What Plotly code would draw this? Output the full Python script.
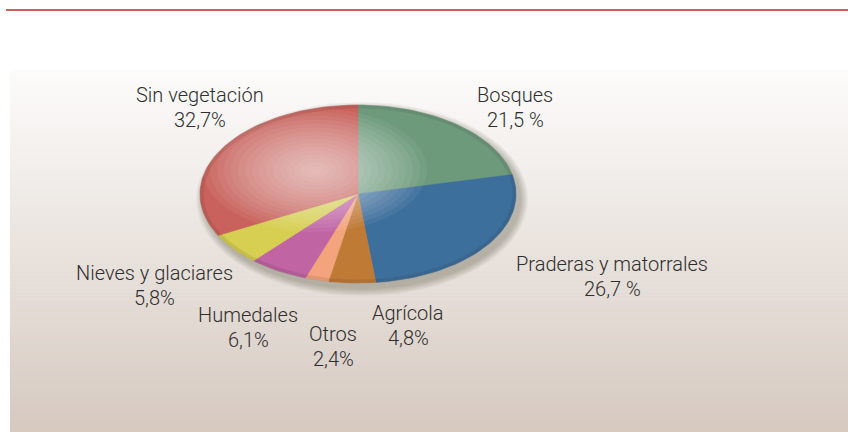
import numpy as np
import plotly.graph_objects as go

# ---- data ----
categories = ["Bosques", "Praderas y matorrales", "Agrícola", "Otros",
              "Humedales", "Nieves y glaciares", "Sin vegetación"]
values = [21.5, 26.7, 4.8, 2.4, 6.1, 5.8, 32.7]
pct_labels = ["21,5 %", "26,7 %", "4,8%", "2,4%", "6,1%", "5,8%", "32,7%"]
colors = ["#6e9a7c", "#3d6f9c", "#bf7a36", "#f4a47c", "#c064a4", "#d6cf52", "#c9625c"]

# label anchor positions (pixels, centre of first line)
label_pos = [(515, 95), (612, 264), (408, 313), (333, 334),
             (248, 315), (154, 273), (200, 95)]

W, H = 848, 432
cx, cy, rx, ry = 358, 194, 158, 89

fig = go.Figure()

def hexrgb(h):
    h = h.lstrip("#")
    return tuple(int(h[i:i + 2], 16) for i in (0, 2, 4))

shapes = []
# background gradient panel
top_c = np.array(hexrgb("#fdfcfb"))
bot_c = np.array(hexrgb("#d6cac1"))
y0p, y1p = 70, 432
nb = 90
for i in range(nb):
    t = i / (nb - 1)
    c = (top_c * (1 - t) + bot_c * t).astype(int)
    ya = y0p + (y1p - y0p) * i / nb
    yb = y0p + (y1p - y0p) * (i + 1) / nb + 0.6
    shapes.append(dict(type="rect", xref="x", yref="y", x0=10, x1=W, y0=ya, y1=yb,
                       fillcolor=f"rgb({c[0]},{c[1]},{c[2]})", line=dict(width=0),
                       layer="below"))
# top red rule
shapes.append(dict(type="line", xref="x", yref="y", x0=6, x1=W, y0=10, y1=10,
                   line=dict(color="#c4645c", width=2.2)))

# soft shadow beneath pie
for k in range(8):
    g = 8 - k
    shapes.append(dict(type="circle", xref="x", yref="y",
                       x0=cx - rx - g + 4, x1=cx + rx + g + 4,
                       y0=cy - ry - g + 5, y1=cy + ry + g + 5,
                       fillcolor="rgba(80,60,50,0.045)", line=dict(width=0),
                       layer="below"))

# pie slices as filled polygons computed from values
total = sum(values)
start = 0.0
for name, v, col in zip(categories, values, colors):
    a0 = start / total * 2 * np.pi
    a1 = (start + v) / total * 2 * np.pi
    n = max(4, int(200 * v / total))
    th = np.linspace(a0, a1, n)
    xs = np.concatenate([[cx], cx + rx * np.sin(th), [cx]])
    ys = np.concatenate([[cy], cy - ry * np.cos(th), [cy]])
    fig.add_trace(go.Scatter(x=xs, y=ys, fill="toself", fillcolor=col, mode="lines",
                             line=dict(color=col, width=0.5), hoverinfo="skip",
                             showlegend=False, name=name))
    start += v

# 3D highlight (white glow) and rim darkening
hx, hy = 315, 170
for k in range(16):
    f = 1 - k / 16
    shapes.append(dict(type="circle", xref="x", yref="y",
                       x0=hx - 112 * f, x1=hx + 112 * f,
                       y0=hy - 62 * f, y1=hy + 62 * f,
                       fillcolor="rgba(255,255,255,0.055)", line=dict(width=0),
                       layer="above"))
for k in range(4):
    shapes.append(dict(type="circle", xref="x", yref="y",
                       x0=cx - rx + k, x1=cx + rx - k,
                       y0=cy - ry + k, y1=cy + ry - k,
                       line=dict(color="rgba(40,30,30,0.08)", width=1.2),
                       layer="above"))

annotations = []
font = dict(family="Roboto", size=20, color="#2e2e2e", weight=300)
for name, p, (x, y) in zip(categories, pct_labels, label_pos):
    annotations.append(dict(x=x, y=y, xref="x", yref="y", text=name,
                            showarrow=False, xanchor="center", yanchor="middle", font=font))
    annotations.append(dict(x=x, y=y + 25, xref="x", yref="y", text=p,
                            showarrow=False, xanchor="center", yanchor="middle", font=font))

fig.update_layout(
    width=W, height=H, margin=dict(l=0, r=0, t=0, b=0),
    paper_bgcolor="#ffffff", plot_bgcolor="rgba(0,0,0,0)",
    xaxis=dict(range=[0, W], visible=False, fixedrange=True),
    yaxis=dict(range=[H, 0], visible=False, fixedrange=True),
    shapes=shapes, annotations=annotations, showlegend=False,
)

fig.write_html("out.html", config={"displayModeBar": False},
               post_script="document.body.style.margin='0';document.body.style.padding='0';")
